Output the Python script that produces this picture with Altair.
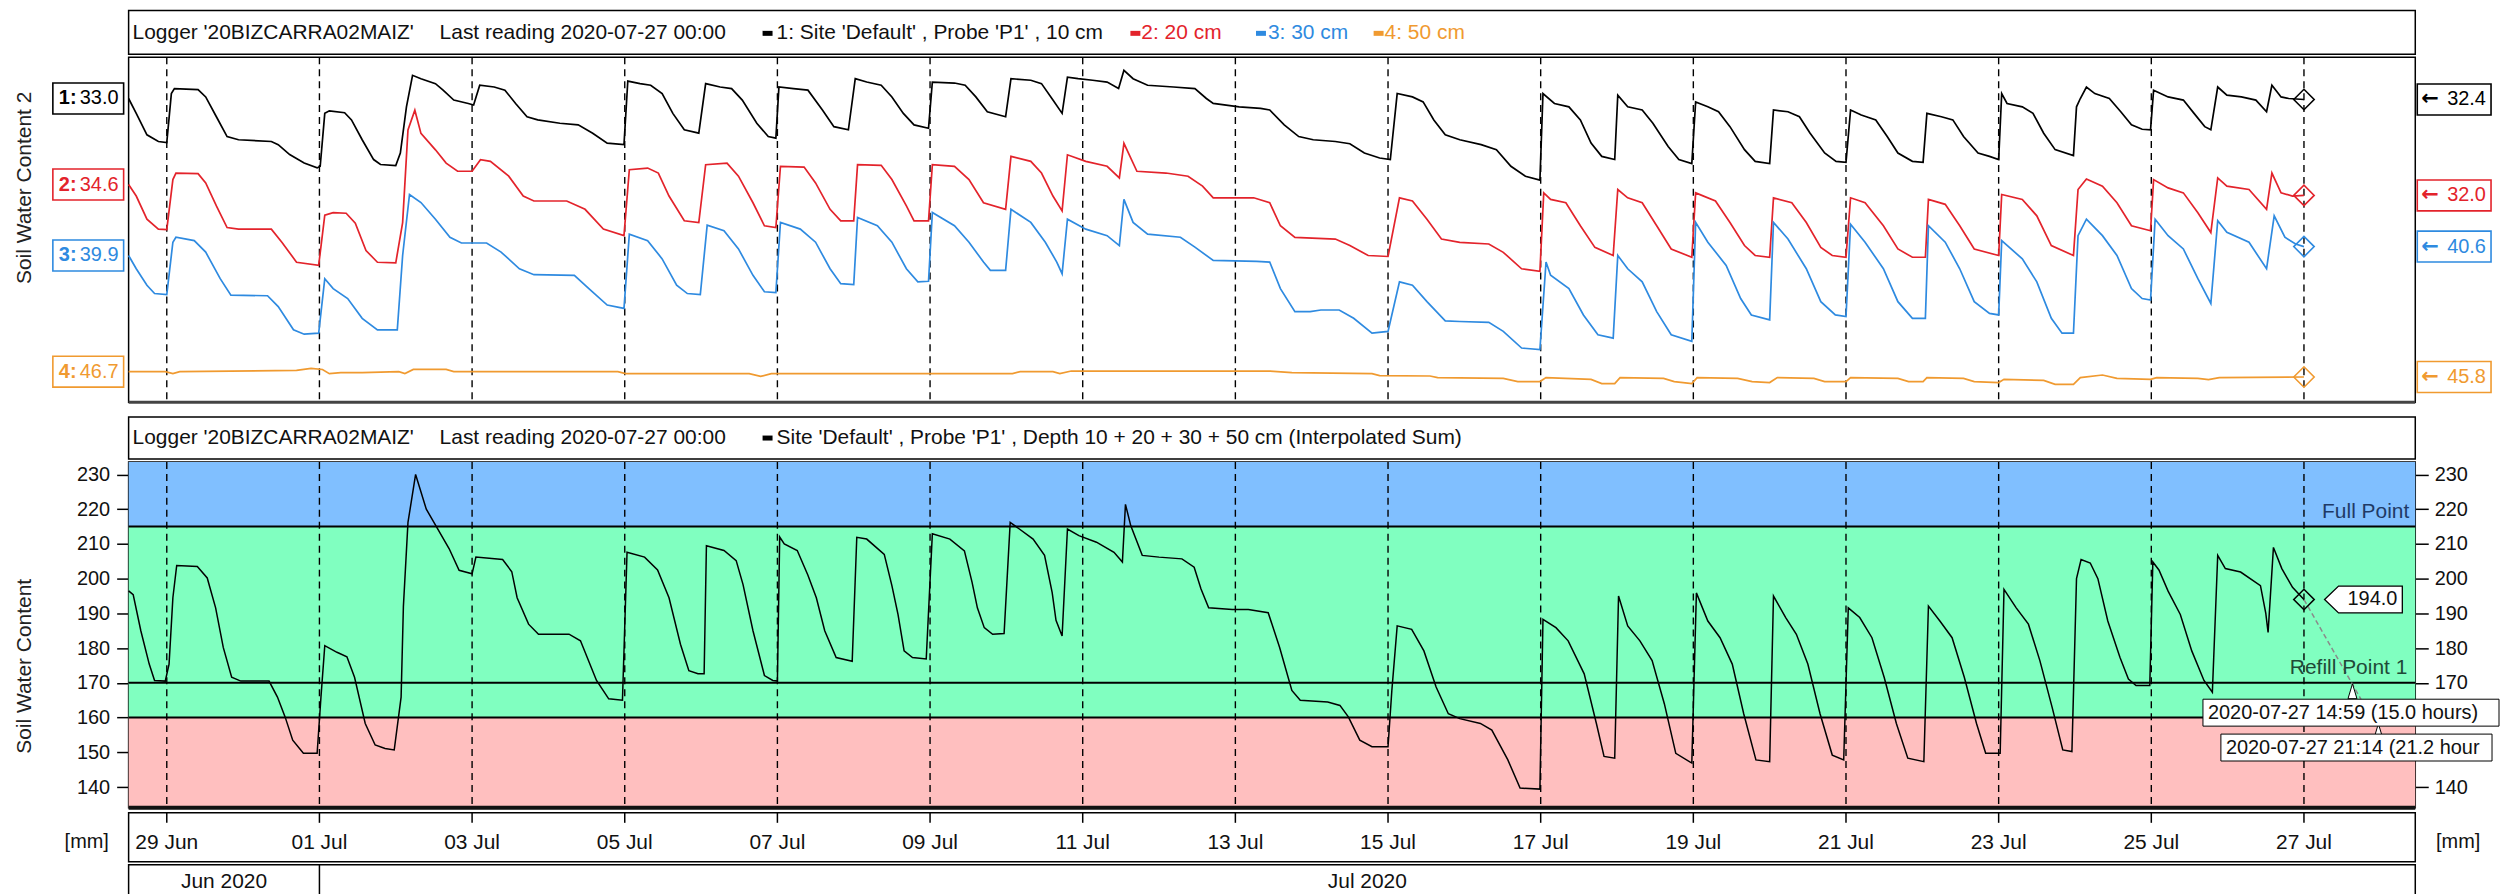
import altair as alt
import pandas as pd

FONT = "Liberation Sans, Arial, DejaVu Sans"
W = 2294

# ---------------- data (day offset from 2020-06-29 00:00, value) ----------------
BLACK = [(-0.50,32.45),(-0.40,31.70),(-0.26,30.62),(-0.11,30.28),(0.00,30.23),(0.06,32.70),(0.10,32.95),(0.41,32.90),(0.51,32.53),(0.65,31.53),(0.79,30.53),(0.94,30.37),(1.37,30.28),(1.46,30.12),(1.61,29.62),(1.80,29.20),(1.97,28.95),(2.01,29.03),(2.07,31.70),(2.13,31.83),(2.33,31.73),(2.42,31.37),(2.56,30.37),(2.71,29.37),(2.80,29.12),(3.00,29.07),(3.06,29.70),(3.14,32.03),(3.22,33.62),(3.33,33.45),(3.52,33.20),(3.62,32.87),(3.76,32.37),(3.95,32.20),(4.02,32.12),(4.10,33.12),(4.29,33.03),(4.43,32.87),(4.57,32.20),(4.72,31.53),(4.86,31.37),(5.15,31.20),(5.39,31.12),(5.58,30.70),(5.77,30.20),(5.99,30.12),(6.04,33.33),(6.20,33.20),(6.34,33.12),(6.49,32.70),(6.63,31.70),(6.78,30.87),(6.97,30.70),(7.06,33.20),(7.25,33.03),(7.40,32.95),(7.54,32.37),(7.73,31.20),(7.88,30.53),(7.98,30.45),(8.02,33.03),(8.21,32.95),(8.40,32.87),(8.59,31.87),(8.74,31.03),(8.93,30.87),(9.02,33.45),(9.17,33.28),(9.36,33.12),(9.50,32.53),(9.65,31.70),(9.79,31.12),(9.98,30.95),(10.03,33.28),(10.32,33.23),(10.46,33.12),(10.60,32.53),(10.75,31.78),(10.99,31.53),(11.06,33.45),(11.32,33.37),(11.46,33.20),(11.61,32.37),(11.73,31.70),(11.80,33.53),(11.94,33.45),(12.13,33.37),(12.32,33.28),(12.47,32.95),(12.54,33.87),(12.66,33.45),(12.85,33.12),(13.19,33.03),(13.47,32.95),(13.62,32.45),(13.71,32.20),(14.05,32.03),(14.33,31.95),(14.45,31.87),(14.64,31.12),(14.83,30.53),(15.02,30.37),(15.31,30.28),(15.50,30.17),(15.69,29.70),(15.89,29.45),(16.03,29.37),(16.12,32.70),(16.32,32.53),(16.46,32.28),(16.60,31.37),(16.75,30.62),(16.94,30.37),(17.22,30.12),(17.42,29.87),(17.61,29.03),(17.80,28.53),(17.99,28.33),(18.03,32.70),(18.18,32.20),(18.37,32.03),(18.52,31.37),(18.66,30.20),(18.80,29.53),(18.97,29.37),(19.01,32.62),(19.14,32.03),(19.33,31.87),(19.47,31.20),(19.67,30.03),(19.81,29.37),(19.98,29.17),(20.03,32.28),(20.19,32.03),(20.33,31.78),(20.48,31.03),(20.67,29.87),(20.81,29.28),(21.00,29.17),(21.05,31.87),(21.24,31.78),(21.39,31.53),(21.53,30.70),(21.72,29.70),(21.87,29.28),(22.00,29.23),(22.06,31.87),(22.20,31.62),(22.39,31.37),(22.54,30.53),(22.68,29.70),(22.87,29.28),(23.01,29.23),(23.06,31.70),(23.25,31.53),(23.40,31.37),(23.54,30.53),(23.73,29.70),(23.88,29.53),(24.00,29.37),(24.04,32.70),(24.11,32.20),(24.31,32.03),(24.45,31.70),(24.59,30.70),(24.74,29.87),(24.98,29.57),(25.02,32.03),(25.07,32.45),(25.15,33.03),(25.26,32.70),(25.45,32.45),(25.60,31.78),(25.74,31.12),(25.88,30.90),(25.99,30.87),(26.03,32.87),(26.22,32.53),(26.42,32.37),(26.56,31.70),(26.70,31.03),(26.78,30.87),(26.87,33.03),(26.99,32.62),(27.18,32.53),(27.37,32.37),(27.51,31.78),(27.58,33.12),(27.70,32.53),(27.80,32.45),(28.00,32.40)]

RED = [(-0.50,32.55),(-0.40,31.97),(-0.26,30.80),(-0.11,30.30),(0.00,30.27),(0.08,32.80),(0.12,33.13),(0.41,33.10),(0.51,32.63),(0.65,31.47),(0.79,30.38),(0.94,30.30),(1.37,30.30),(1.51,29.63),(1.70,28.63),(1.99,28.47),(2.07,31.00),(2.18,31.13),(2.35,31.10),(2.47,30.60),(2.61,29.22),(2.76,28.63),(3.00,28.60),(3.09,30.63),(3.16,35.30),(3.25,36.30),(3.33,35.13),(3.52,34.30),(3.66,33.63),(3.81,33.22),(4.00,33.22),(4.11,33.80),(4.24,33.72),(4.48,32.97),(4.67,31.97),(4.81,31.72),(5.24,31.72),(5.48,31.30),(5.72,30.30),(5.99,29.97),(6.06,33.30),(6.30,33.38),(6.44,33.13),(6.58,31.97),(6.78,30.72),(6.97,30.63),(7.06,33.55),(7.34,33.63),(7.49,32.97),(7.68,31.63),(7.83,30.47),(7.98,30.38),(8.04,33.47),(8.35,33.43),(8.50,32.63),(8.69,31.30),(8.83,30.72),(9.00,30.72),(9.05,33.55),(9.36,33.52),(9.50,32.80),(9.69,31.47),(9.79,30.72),(9.98,30.72),(10.03,33.55),(10.32,33.47),(10.51,32.80),(10.70,31.63),(10.99,31.30),(11.06,33.97),(11.32,33.72),(11.46,33.13),(11.61,31.97),(11.73,31.22),(11.80,34.05),(12.04,33.72),(12.32,33.47),(12.48,32.88),(12.54,34.63),(12.71,33.22),(13.09,33.13),(13.38,32.97),(13.57,32.47),(13.71,31.88),(14.24,31.88),(14.45,31.63),(14.59,30.47),(14.78,29.88),(15.31,29.80),(15.50,29.47),(15.74,28.97),(16.00,28.92),(16.15,31.88),(16.32,31.72),(16.51,30.80),(16.70,29.80),(16.94,29.63),(17.32,29.55),(17.51,29.13),(17.75,28.30),(17.99,28.17),(18.04,32.13),(18.13,31.80),(18.33,31.63),(18.52,30.47),(18.71,29.38),(18.95,28.97),(19.01,32.30),(19.14,31.88),(19.33,31.63),(19.52,30.47),(19.71,29.30),(19.98,28.88),(20.03,32.13),(20.29,31.72),(20.48,30.63),(20.67,29.47),(20.81,28.97),(21.00,28.88),(21.05,31.88),(21.29,31.63),(21.48,30.63),(21.67,29.38),(21.82,28.97),(22.00,28.88),(22.06,31.88),(22.25,31.63),(22.49,30.47),(22.68,29.30),(22.87,28.88),(23.04,28.88),(23.08,31.80),(23.30,31.55),(23.49,30.47),(23.68,29.30),(24.00,28.97),(24.04,32.05),(24.31,31.80),(24.50,30.97),(24.69,29.47),(24.98,28.97),(25.04,32.30),(25.15,32.83),(25.36,32.47),(25.55,31.63),(25.74,30.47),(25.99,30.22),(26.03,32.80),(26.22,32.38),(26.42,32.13),(26.61,31.13),(26.78,30.13),(26.87,32.88),(26.99,32.47),(27.28,32.30),(27.51,31.30),(27.58,33.13),(27.70,32.13),(27.85,31.97),(28.00,32.00)]

BLUE = [(-0.50,40.15),(-0.40,39.48),(-0.26,38.65),(-0.16,38.23),(0.00,38.18),(0.08,40.82),(0.12,41.07),(0.36,40.90),(0.51,40.32),(0.70,38.98),(0.84,38.15),(1.32,38.12),(1.46,37.57),(1.66,36.40),(1.80,36.18),(1.99,36.23),(2.07,38.98),(2.18,38.48),(2.37,37.98),(2.56,36.98),(2.76,36.40),(3.02,36.40),(3.09,40.15),(3.18,43.23),(3.33,42.82),(3.52,41.98),(3.71,41.07),(3.86,40.78),(4.19,40.78),(4.38,40.32),(4.62,39.48),(4.81,39.18),(5.34,39.15),(5.53,38.48),(5.77,37.65),(5.99,37.48),(6.06,41.23),(6.30,40.90),(6.49,39.98),(6.68,38.65),(6.82,38.23),(6.99,38.18),(7.08,41.68),(7.30,41.40),(7.49,40.48),(7.68,39.15),(7.83,38.32),(7.98,38.28),(8.04,41.82),(8.30,41.48),(8.50,40.82),(8.69,39.48),(8.83,38.73),(9.00,38.68),(9.05,42.07),(9.31,41.65),(9.50,40.82),(9.69,39.48),(9.84,38.82),(9.98,38.85),(10.03,42.32),(10.32,41.65),(10.51,40.82),(10.70,39.82),(10.79,39.40),(10.99,39.40),(11.06,42.48),(11.32,41.82),(11.51,40.82),(11.66,39.82),(11.73,39.23),(11.80,41.98),(12.04,41.48),(12.32,41.15),(12.48,40.65),(12.54,42.98),(12.66,41.82),(12.85,41.23),(13.28,41.07),(13.47,40.57),(13.71,39.90),(14.28,39.85),(14.45,39.82),(14.59,38.48),(14.78,37.32),(14.98,37.32),(15.12,37.40),(15.36,37.40),(15.55,36.98),(15.79,36.23),(16.00,36.32),(16.15,38.82),(16.32,38.65),(16.51,37.82),(16.75,36.85),(16.94,36.82),(17.32,36.78),(17.51,36.32),(17.75,35.48),(17.99,35.40),(18.07,39.82),(18.13,39.15),(18.37,38.48),(18.56,37.15),(18.75,36.15),(18.95,35.98),(19.01,40.15),(19.14,39.48),(19.33,38.82),(19.52,37.32),(19.71,36.15),(19.98,35.82),(20.03,41.82),(20.19,40.82),(20.43,39.65),(20.62,37.98),(20.76,37.15),(21.00,36.90),(21.05,41.82),(21.24,40.98),(21.48,39.48),(21.67,37.82),(21.86,37.15),(22.00,37.07),(22.06,41.73),(22.25,40.82),(22.49,39.48),(22.68,37.82),(22.87,36.98),(23.04,36.98),(23.08,41.65),(23.30,40.82),(23.49,39.48),(23.68,37.82),(23.88,37.23),(24.00,37.15),(24.04,40.90),(24.31,39.98),(24.50,38.82),(24.69,36.98),(24.83,36.23),(24.98,36.23),(25.04,41.15),(25.15,41.98),(25.36,41.15),(25.55,40.15),(25.74,38.48),(25.88,37.98),(25.99,37.90),(26.05,41.98),(26.22,41.15),(26.42,40.48),(26.61,38.98),(26.78,37.73),(26.87,41.90),(26.99,41.32),(27.28,40.82),(27.51,39.48),(27.61,42.15),(27.75,41.07),(27.89,40.73),(28.00,40.60)]

ORANGE = [(-0.50,46.07),(-0.02,46.07),(0.08,45.97),(0.17,46.07),(1.70,46.13),(1.89,46.23),(2.04,46.18),(2.13,45.97),(2.28,46.02),(2.56,46.02),(3.04,46.07),(3.12,45.97),(3.23,46.18),(3.66,46.18),(3.76,46.07),(5.91,46.07),(6.01,45.97),(7.63,45.97),(7.78,45.83),(7.92,45.97),(11.08,45.97),(11.18,46.07),(11.61,46.07),(11.70,45.97),(11.85,46.10),(14.45,46.10),(14.74,46.02),(15.79,45.97),(15.89,45.87),(16.55,45.85),(16.65,45.77),(17.51,45.73),(17.70,45.57),(17.99,45.57),(18.07,45.77),(18.66,45.68),(18.80,45.47),(18.97,45.47),(19.04,45.77),(19.61,45.73),(19.75,45.57),(19.98,45.47),(20.05,45.77),(20.58,45.73),(20.77,45.57),(21.00,45.52),(21.10,45.77),(21.58,45.73),(21.72,45.57),(22.00,45.57),(22.06,45.77),(22.68,45.73),(22.82,45.57),(23.01,45.57),(23.06,45.77),(23.54,45.73),(23.68,45.57),(24.00,45.52),(24.07,45.68),(24.59,45.63),(24.74,45.43),(24.98,45.43),(25.07,45.77),(25.36,45.90),(25.55,45.73),(25.99,45.68),(26.07,45.77),(26.61,45.73),(26.75,45.67),(26.89,45.77),(28.00,45.80)]

SUM = [(-0.50,196.5),(-0.44,195.4),(-0.34,185.0),(-0.23,175.4),(-0.16,170.7),(-0.02,170.5),(0.03,175.4),(0.08,194.5),(0.13,203.8),(0.40,203.5),(0.53,200.2),(0.64,191.6),(0.74,180.2),(0.85,171.6),(0.97,170.5),(1.34,170.5),(1.45,165.9),(1.55,160.2),(1.65,153.5),(1.79,149.7),(1.97,149.7),(2.02,165.9),(2.07,180.7),(2.23,178.8),(2.36,177.5),(2.46,171.6),(2.60,158.3),(2.73,152.1),(2.86,151.1),(2.98,150.7),(3.07,165.9),(3.10,192.0),(3.16,216.2),(3.26,230.0),(3.40,220.0),(3.50,216.2),(3.70,208.6),(3.83,202.4),(4.00,201.4),(4.05,206.2),(4.40,205.5),(4.52,202.0),(4.59,194.5),(4.74,186.9),(4.87,184.0),(5.27,184.0),(5.42,182.1),(5.63,170.7),(5.79,165.4),(5.97,165.0),(6.03,207.6),(6.26,206.2),(6.43,202.5),(6.58,194.5),(6.73,181.1),(6.84,173.5),(6.96,172.6),(7.04,172.6),(7.07,209.5),(7.30,208.1),(7.46,205.2),(7.55,198.3),(7.68,185.0),(7.83,172.1),(7.94,170.7),(8.00,170.5),(8.03,212.0),(8.09,210.0),(8.26,208.1),(8.40,201.0),(8.51,194.5),(8.62,185.0),(8.77,177.3),(8.98,176.2),(9.04,211.9),(9.17,211.4),(9.40,207.0),(9.50,198.0),(9.58,189.7),(9.66,179.2),(9.77,177.3),(9.95,176.9),(10.03,212.9),(10.26,211.4),(10.45,208.0),(10.55,199.0),(10.62,191.6),(10.71,185.9),(10.82,184.0),(10.97,184.2),(11.05,216.2),(11.17,214.3),(11.35,211.4),(11.50,206.7),(11.60,196.0),(11.65,188.0),(11.73,183.5),(11.80,214.3),(11.95,212.4),(12.18,210.5),(12.41,207.6),(12.52,204.8),(12.56,221.4),(12.63,215.2),(12.78,206.7),(13.00,206.2),(13.30,205.7),(13.46,203.3),(13.55,197.0),(13.65,191.6),(13.96,191.1),(14.17,191.1),(14.43,190.2),(14.58,180.2),(14.74,167.8),(14.85,165.0),(15.21,164.5),(15.37,163.5),(15.48,160.2),(15.63,153.5),(15.79,151.6),(16.00,151.6),(16.05,167.8),(16.12,186.4),(16.31,185.4),(16.47,179.2),(16.63,168.8),(16.79,161.1),(16.94,159.7),(17.21,158.3),(17.36,156.4),(17.57,147.8),(17.73,139.7),(17.99,139.4),(18.03,188.3),(18.20,185.9),(18.36,182.1),(18.57,172.6),(18.73,158.3),(18.83,148.8),(18.97,148.3),(19.02,195.0),(19.14,186.4),(19.30,182.1),(19.46,176.4),(19.62,164.0),(19.77,149.7),(19.98,146.9),(20.04,195.9),(20.19,187.8),(20.35,183.0),(20.51,175.4),(20.66,161.1),(20.82,147.8),(21.00,147.3),(21.05,195.0),(21.21,188.8),(21.35,184.0),(21.50,175.4),(21.66,161.1),(21.82,149.2),(21.97,147.8),(22.03,191.6),(22.18,188.8),(22.34,183.0),(22.50,171.6),(22.66,158.3),(22.81,148.3),(23.02,147.3),(23.08,192.1),(23.23,187.8),(23.39,183.0),(23.55,171.6),(23.71,158.3),(23.83,149.7),(24.02,149.7),(24.07,196.9),(24.23,191.6),(24.39,186.9),(24.54,176.4),(24.70,163.0),(24.84,150.7),(24.96,150.2),(25.02,200.0),(25.08,205.5),(25.20,204.5),(25.30,200.0),(25.43,187.8),(25.59,177.3),(25.70,171.1),(25.80,169.2),(25.98,169.2),(26.02,204.8),(26.10,202.5),(26.22,196.4),(26.38,189.7),(26.53,179.2),(26.69,170.7),(26.80,167.3),(26.87,206.7),(26.97,202.9),(27.17,201.9),(27.43,198.0),(27.50,190.0),(27.53,184.5),(27.60,209.0),(27.71,202.9),(27.85,197.5),(28.00,194.0)]

FORECAST_DAYS = [28.0, 28.884]
FORECAST_VALS = [194.0, 160.0]

LEVELS = [215, 170, 160]
BAND_LO = [134, 160, 215]
BAND_HI = [160, 215, 233.6]
BAND_COLORS = ["#ffbfbf", "#80ffc0", "#80bfff"]

TICK_DAYS = [0, 2, 4, 6, 8, 10, 12, 14, 16, 18, 20, 22, 24, 26, 28]
TICK_LABELS = ["29 Jun", "01 Jul", "03 Jul", "05 Jul", "07 Jul", "09 Jul", "11 Jul", "13 Jul",
               "15 Jul", "17 Jul", "19 Jul", "21 Jul", "23 Jul", "25 Jul", "27 Jul"]
Y_TICKS = [140, 150, 160, 170, 180, 190, 200, 210, 220, 230]
Y_TICKS_RIGHT = [140, 170, 180, 190, 200, 210, 220, 230]  # 150/160 hidden behind the callouts
MONTH_NAMES = ["Jun 2020", "Jul 2020"]
MONTH_BOUNDS = [-0.5, 2.0, 29.458]

LEFT_LABELS = ["33.0", "34.6", "39.9", "46.7"]
RIGHT_LABELS = ["32.4", "32.0", "40.6", "45.8"]
CALLOUTS = ["2020-07-27 14:59 (15.0 hours)", "2020-07-27 21:14 (21.2 hours)"]

# ---------------- helpers ----------------
BASE = pd.Timestamp("2020-06-29")


def to_time(days):
    return [BASE + pd.Timedelta(days=float(d)) for d in days]


def pairs_df(pairs):
    return pd.DataFrame({"t": to_time([p[0] for p in pairs]), "v": [p[1] for p in pairs]})


XDOM = [alt.DateTime(year=2020, month=6, date=28, hours=12),
        alt.DateTime(year=2020, month=7, date=28, hours=11)]


def xenc(field="t"):
    return alt.X(f"{field}:T", scale=alt.Scale(domain=XDOM, nice=False), axis=None)


ONE = pd.DataFrame({"a": [0]})


def anchor():
    return alt.Chart(ONE).mark_rect(opacity=0).encode(
        x=alt.value(-116), x2=alt.value(-115), y=alt.value(0), y2=alt.value(1))


def txt(s, x, y, color="#111111", size=21, align="left", weight="normal", angle=0, limit=0):
    return alt.Chart(pd.DataFrame({"s": [s]})).mark_text(
        align=align, baseline="middle", font=FONT, fontSize=size, color=color,
        fontWeight=weight, angle=angle, limit=limit, ellipsis=" ").encode(
        x=alt.value(x), y=alt.value(y), text="s:N")


def legbar(x, y, color):
    return alt.Chart(ONE).mark_rect(color=color).encode(
        x=alt.value(x), x2=alt.value(x + 10), y=alt.value(y - 2.5), y2=alt.value(y + 2.5))


BOX_L = "M-1,-0.437L1,-0.437L1,0.437L-1,0.437Z"
BOX_R = "M-1,-0.42L1,-0.42L1,0.42L-1,0.42Z"
CALLOUT = "M-1,0L-0.64,-0.346L1,-0.346L1,0.346L-0.64,0.346Z"
TRI = "M0,-1L0.6,1L-0.6,1Z"

# ---------------- row A: top title bar ----------------
TY = 23
rowA = alt.layer(
    txt("Logger '20BIZCARRA02MAIZ'", 4, TY),
    txt("Last reading 2020-07-27 00:00", 312, TY),
    legbar(636, TY, "#000000"),
    txt("1: Site 'Default' , Probe 'P1' , 10 cm", 650, TY),
    legbar(1005, TY, "#e3232b"),
    txt("2: 20 cm", 1016, TY, color="#e3232b"),
    legbar(1131, TY, "#2e8ae0"),
    txt("3: 30 cm", 1143, TY, color="#2e8ae0"),
    legbar(1249, TY, "#f09a30"),
    txt("4: 50 cm", 1260, TY, color="#f09a30"),
    anchor(),
).properties(width=W, height=44)

# ---------------- row B: four probe depths ----------------
TOP = [
    dict(num="1:", data=BLACK, color="#000000", dom=[17.13, 34.53], left=LEFT_LABELS[0], right=RIGHT_LABELS[0]),
    dict(num="2:", data=RED, color="#e3232b", dom=[21.57, 38.97], left=LEFT_LABELS[1], right=RIGHT_LABELS[1]),
    dict(num="3:", data=BLUE, color="#2e8ae0", dom=[32.75, 50.15], left=LEFT_LABELS[2], right=RIGHT_LABELS[2]),
    dict(num="4:", data=ORANGE, color="#f09a30", dom=[44.53, 61.93], left=LEFT_LABELS[3], right=RIGHT_LABELS[3]),
]


def series_layer(s):
    df = pairs_df(s["data"])
    c = s["color"]
    y = alt.Y("v:Q", scale=alt.Scale(domain=s["dom"], nice=False, zero=False), axis=None)
    first = df.iloc[[0]].reset_index(drop=True).assign(num=s["num"], lab=s["left"])
    last = df.iloc[[-1]].reset_index(drop=True).assign(lab=s["right"], arrow="←")
    line = alt.Chart(df).mark_line(color=c, strokeWidth=1.7).encode(x=xenc(), y=y)
    diamond = alt.Chart(last).mark_point(shape="diamond", size=420, filled=False, color=c,
                                         strokeWidth=1.6, opacity=1).encode(x=xenc(), y=y)
    lbox = alt.Chart(first).mark_point(shape=BOX_L, size=71 * 71, filled=True, fill="white",
                                       stroke=c, strokeWidth=1.6, opacity=1, fillOpacity=1,
                                       strokeOpacity=1).encode(x=alt.value(-40.5), y=y)
    lnum = alt.Chart(first).mark_text(align="left", baseline="middle", font=FONT, fontSize=20,
                                      fontWeight="bold", color=c).encode(
        x=alt.value(-70), y=y, text="num:N")
    llab = alt.Chart(first).mark_text(align="left", baseline="middle", font=FONT, fontSize=20,
                                      color=c).encode(x=alt.value(-49), y=y, text="lab:N")
    rbox = alt.Chart(last).mark_point(shape=BOX_R, size=74 * 74, filled=True, fill="white",
                                      stroke=c, strokeWidth=1.6, opacity=1, fillOpacity=1,
                                      strokeOpacity=1).encode(x=alt.value(2333), y=y)
    rarrow = alt.Chart(last).mark_text(align="left", baseline="middle", font="DejaVu Sans",
                                       fontSize=21, fontWeight="bold", color=c).encode(
        x=alt.value(2300), y=y, text="arrow:N")
    rlab = alt.Chart(last).mark_text(align="left", baseline="middle", font=FONT, fontSize=20,
                                     color=c).encode(x=alt.value(2326), y=y, text="lab:N")
    return alt.layer(line, diamond, lbox, lnum, llab, rbox, rarrow, rlab)


vrules_df = pd.DataFrame({"t": to_time(TICK_DAYS)})


def vrules():
    return alt.Chart(vrules_df).mark_rule(color="black", strokeDash=[7, 5], strokeWidth=1.4).encode(x=xenc())


def hedge(y, width, color):
    return alt.Chart(ONE).mark_rule(color=color, strokeWidth=width).encode(
        x=alt.value(0), x2=alt.value(W), y=alt.value(y))


rowB = alt.layer(
    vrules(),
    *[series_layer(s) for s in TOP],
    hedge(346, 3, "#444444"),
    txt("Soil Water Content 2", -104, 131, color="#222222", size=21, align="center", angle=270),
    anchor(),
).resolve_scale(y="independent").properties(width=W, height=346)

spacer = anchor().properties(width=W, height=9, view=alt.ViewBackground(stroke="transparent"))

# ---------------- row C: bottom title bar ----------------
TY2 = 21
rowC = alt.layer(
    txt("Logger '20BIZCARRA02MAIZ'", 4, TY2),
    txt("Last reading 2020-07-27 00:00", 312, TY2),
    legbar(636, TY2, "#000000"),
    txt("Site 'Default' , Probe 'P1' , Depth 10 + 20 + 30 + 50 cm (Interpolated Sum)", 650, TY2),
    anchor(),
).properties(width=W, height=42)

# ---------------- row D: interpolated sum ----------------
YB = alt.Scale(domain=[134, 233.6], nice=False, zero=False)
sum_df = pairs_df(SUM)
last_sum = sum_df.iloc[[-1]].reset_index(drop=True)

axis_common = dict(labelFont=FONT, labelFontSize=20, labelColor="#111111",
                   tickColor="black", tickWidth=1.5, domain=False, grid=False, title=None,
                   format="d")

bands = alt.Chart(pd.DataFrame({"lo": BAND_LO, "hi": BAND_HI, "c": BAND_COLORS})).mark_rect().encode(
    x=alt.value(0), x2=alt.value(W),
    y=alt.Y("lo:Q", scale=YB, axis=None), y2="hi:Q",
    color=alt.Color("c:N", scale=None))

hlines = alt.Chart(pd.DataFrame({"v": LEVELS})).mark_rule(color="black", strokeWidth=2).encode(
    y=alt.Y("v:Q", scale=YB, axis=alt.Axis(orient="right", values=Y_TICKS_RIGHT, tickSize=13,
                                           labelPadding=6, **axis_common)))

sum_line = alt.Chart(sum_df).mark_line(color="black", strokeWidth=1.5).encode(
    x=xenc(), y=alt.Y("v:Q", scale=YB, axis=alt.Axis(orient="left", values=Y_TICKS, tickSize=12,
                                                     labelPadding=7, **axis_common)))

forecast = alt.Chart(pd.DataFrame({"t": to_time(FORECAST_DAYS), "v": FORECAST_VALS})).mark_line(
    color="#8a8a8a", strokeDash=[5, 3], strokeWidth=1.5).encode(
    x=xenc(), y=alt.Y("v:Q", scale=YB, axis=None))

sum_diamond = alt.Chart(last_sum).mark_point(shape="diamond", size=420, filled=False, color="black",
                                             strokeWidth=1.6, opacity=1).encode(
    x=xenc(), y=alt.Y("v:Q", scale=YB, axis=None))

full_txt = alt.Chart(pd.DataFrame({"v": [LEVELS[0]], "s": ["Full Point"]})).mark_text(
    align="right", baseline="middle", dy=-15, font=FONT, fontSize=21, color="#1f3a66").encode(
    x=alt.value(2288), y=alt.Y("v:Q", scale=YB, axis=None), text="s:N")
refill_txt = alt.Chart(pd.DataFrame({"v": [LEVELS[1]], "s": ["Refill Point 1"]})).mark_text(
    align="right", baseline="middle", dy=-15, font=FONT, fontSize=21, color="#1f4a38").encode(
    x=alt.value(2286), y=alt.Y("v:Q", scale=YB, axis=None), text="s:N")

callout_box = alt.Chart(last_sum).mark_point(shape=CALLOUT, size=78 * 78, filled=True, fill="white",
                                             stroke="black", strokeWidth=1.3, opacity=1, fillOpacity=1,
                                             strokeOpacity=1).encode(
    x=alt.value(2242), y=alt.Y("v:Q", scale=YB, axis=None))
callout_txt = alt.Chart(last_sum).mark_text(align="center", baseline="middle", font=FONT, fontSize=20,
                                            color="#111111").encode(
    x=alt.value(2251), y=alt.Y("v:Q", scale=YB, axis=None), text=alt.Text("v:Q", format=".1f"))


def tri(x, y, size):
    return alt.Chart(ONE).mark_point(shape=TRI, size=size, filled=True, fill="white", stroke="black",
                                     strokeWidth=1, opacity=1, fillOpacity=1).encode(
        x=alt.value(x), y=alt.value(y))


def box(x1, x2, y1, y2):
    return alt.Chart(ONE).mark_rect(fill="white", stroke="black", strokeWidth=1).encode(
        x=alt.value(x1), x2=alt.value(x2), y=alt.value(y1), y2=alt.value(y2))


rowD = alt.layer(
    bands,
    vrules(),
    hlines,
    forecast,
    sum_line,
    sum_diamond,
    full_txt,
    refill_txt,
    callout_box,
    callout_txt,
    tri(2231, 230, 225),
    tri(2257, 268, 120),
    box(2081, 2378, 238, 265),
    box(2099, 2371, 273, 300),
    txt(CALLOUTS[0], 2086, 252, size=20),
    txt(CALLOUTS[1], 2104, 287, size=20, limit=268),
    hedge(347, 4, "#111111"),
    txt("Soil Water Content", -104, 205, color="#222222", size=21, align="center", angle=270),
    anchor(),
).resolve_axis(y="independent").properties(width=W, height=347)

# ---------------- row E: date axis ----------------
ticks_df = pd.DataFrame({"t": to_time(TICK_DAYS), "lab": TICK_LABELS})
rowE = alt.layer(
    alt.Chart(ticks_df).mark_rule(color="black", strokeWidth=1.5).encode(
        x=xenc(), y=alt.value(0), y2=alt.value(10)),
    alt.Chart(ticks_df).mark_text(align="center", baseline="middle", font=FONT, fontSize=21,
                                  color="#111111").encode(x=xenc(), y=alt.value(30), text="lab:N"),
    txt("[mm]", -42, 29, align="center", size=20),
    txt("[mm]", 2337, 29, align="center", size=20),
    anchor(),
).properties(width=W, height=49)

# ---------------- row F: months ----------------
mids = [(MONTH_BOUNDS[i] + MONTH_BOUNDS[i + 1]) / 2 for i in range(len(MONTH_NAMES))]
month_df = pd.DataFrame({"t": to_time(mids), "lab": MONTH_NAMES})
sep_df = pd.DataFrame({"t": to_time(MONTH_BOUNDS[1:2])})
rowF = alt.layer(
    alt.Chart(sep_df).mark_rule(color="black", strokeWidth=1.5).encode(x=xenc()),
    alt.Chart(month_df).mark_text(align="center", baseline="middle", font=FONT, fontSize=21,
                                  color="#111111").encode(x=xenc(), y=alt.value(17), text="lab:N"),
    anchor(),
).properties(width=W, height=32)

chart = alt.vconcat(rowA, rowB, spacer, rowC, rowD, rowE, rowF, spacing=0).resolve_scale(
    x="independent", y="independent").properties(
    padding={"left": 4, "top": 0, "right": 0, "bottom": 0}).configure_view(
    stroke="black", strokeWidth=1.5)

chart.save("out.html", embed_options={"renderer": "svg", "actions": False})
